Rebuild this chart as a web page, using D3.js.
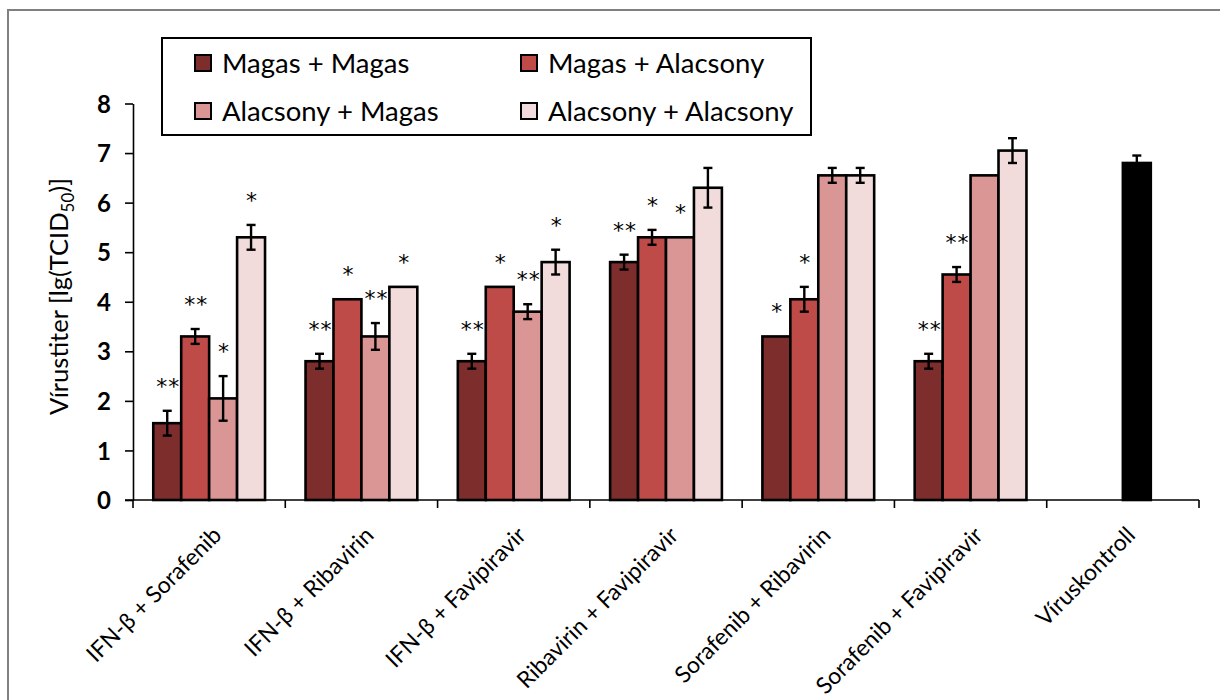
<!DOCTYPE html>
<html>
<head>
<meta charset="utf-8">
<script src="https://cdn.jsdelivr.net/npm/d3@7"></script>
<style>
  html, body { margin: 0; padding: 0; background: #fff; }
  svg { display: block; }
  text { font-family: Lato, "Open Sans", sans-serif; fill: #000; }
</style>
</head>
<body>
<svg id="chart" width="1220" height="700"></svg>
<script>
// Treatment groups on the x axis
const categories = [
  "IFN-β + Sorafenib",
  "IFN-β + Ribavirin",
  "IFN-β + Favipiravir",
  "Ribavirin + Favipiravir",
  "Sorafenib + Ribavirin",
  "Sorafenib + Favipiravir",
  "Víruskontroll"
];

// Dose combinations (legend entries)
const seriesNames = ["Magas + Magas", "Magas + Alacsony", "Alacsony + Magas", "Alacsony + Alacsony"];

// Virus titre means, lg(TCID50); null = no bar
const magasMagas         = [1.55, 2.8, 2.8, 4.8, 3.3, 2.8, null];
const magasAlacsony      = [3.3, 4.05, 4.3, 5.3, 4.05, 4.55, null];
const alacsonyMagas      = [2.05, 3.3, 3.8, 5.3, 6.55, 6.55, 6.8]; // last point: virus control
const alacsonyAlacsony   = [5.3, 4.3, 4.8, 6.3, 6.55, 7.05, null];

// Standard deviations (0 = no error bar)
const errMagasMagas       = [0.25, 0.15, 0.15, 0.15, 0, 0.15, null];
const errMagasAlacsony    = [0.15, 0, 0, 0.15, 0.25, 0.15, null];
const errAlacsonyMagas    = [0.45, 0.27, 0.15, 0, 0.15, 0, 0.15];
const errAlacsonyAlacsony = [0.25, 0, 0.25, 0.4, 0.15, 0.25, null];

// Significance marks
const sigMagasMagas       = ["**", "**", "**", "**", "*", "**", ""];
const sigMagasAlacsony    = ["**", "*", "*", "*", "*", "**", ""];
const sigAlacsonyMagas    = ["*", "**", "**", "*", "", "", ""];
const sigAlacsonyAlacsony = ["*", "*", "*", "", "", "", ""];

const yTicks = [0, 1, 2, 3, 4, 5, 6, 7, 8];

const seriesValues = [magasMagas, magasAlacsony, alacsonyMagas, alacsonyAlacsony];
const seriesErrors = [errMagasMagas, errMagasAlacsony, errAlacsonyMagas, errAlacsonyAlacsony];
const seriesSig = [sigMagasMagas, sigMagasAlacsony, sigAlacsonyMagas, sigAlacsonyAlacsony];

const colors = ["#7e2d2d", "#be4b48", "#d99694", "#f2dcdb"];
const controlColor = "#000000";
const controlCategory = "Víruskontroll";

const svg = d3.select("#chart");

// outer frame
svg.append("rect")
  .attr("x", 8).attr("y", 10)
  .attr("width", 1240).attr("height", 720)
  .attr("fill", "none").attr("stroke", "#808080").attr("stroke-width", 2);

const plot = { left: 133, right: 1199, top: 103.5, bottom: 500 };

const x = d3.scaleBand().domain(categories).range([plot.left, plot.right]).padding(0);
const barW = x.bandwidth() / 5.45;
const gap = x.bandwidth() - 4 * barW;
const xs = d3.scaleBand().domain(d3.range(4)).range([gap / 2, x.bandwidth() - gap / 2]).padding(0);
const y = d3.scaleLinear().domain([0, 8]).range([plot.bottom, plot.top]);

// flatten to bar records
const bars = [];
categories.forEach((c, ci) => {
  seriesValues.forEach((vals, si) => {
    const v = vals[ci];
    if (v == null) return;
    bars.push({
      cat: c, si, v,
      err: seriesErrors[si][ci] || 0,
      sig: seriesSig[si][ci] || "",
      fill: c === controlCategory ? controlColor : colors[si]
    });
  });
});

// Bars
const g = svg.append("g");
g.selectAll("rect.bar").data(bars).join("rect")
  .attr("class", "bar")
  .attr("x", d => x(d.cat) + xs(d.si))
  .attr("y", d => y(d.v))
  .attr("width", xs.bandwidth())
  .attr("height", d => y(0) - y(d.v))
  .attr("fill", d => d.fill)
  .attr("stroke", "#000")
  .attr("stroke-width", 2.6);

// Error bars
const eb = g.selectAll("g.err").data(bars.filter(d => d.err > 0)).join("g").attr("class", "err")
  .attr("transform", d => `translate(${x(d.cat) + xs(d.si) + xs.bandwidth() / 2},0)`);
eb.append("line")
  .attr("x1", 0).attr("x2", 0)
  .attr("y1", d => y(d.v - d.err)).attr("y2", d => y(d.v + d.err))
  .attr("stroke", "#000").attr("stroke-width", 2.4);
eb.append("line")
  .attr("x1", -4.5).attr("x2", 4.5)
  .attr("y1", d => y(d.v + d.err)).attr("y2", d => y(d.v + d.err))
  .attr("stroke", "#000").attr("stroke-width", 2.4);
eb.append("line")
  .attr("x1", -4.5).attr("x2", 4.5)
  .attr("y1", d => y(d.v - d.err)).attr("y2", d => y(d.v - d.err))
  .attr("stroke", "#000").attr("stroke-width", 2.4);

// Significance asterisks above each bar / error bar
g.selectAll("text.sig").data(bars.filter(d => d.sig)).join("text")
  .attr("class", "sig")
  .attr("x", d => x(d.cat) + xs(d.si) + xs.bandwidth() / 2 + 1)
  .attr("y", d => y(d.v + d.err) - 30 + 13)
  .attr("text-anchor", "middle")
  .style("font-family", "'DejaVu Sans', sans-serif")
  .style("font-size", "22px")
  .style("letter-spacing", "1px")
  .text(d => d.sig);

// Y axis
const yAxis = d3.axisLeft(y).tickValues(yTicks).tickSize(8).tickSizeOuter(0).tickPadding(14);
const ya = svg.append("g").attr("transform", `translate(${plot.left},0)`).call(yAxis);
ya.select(".domain").attr("stroke", "#000").attr("stroke-width", 1.6);
ya.selectAll(".tick line").attr("stroke", "#000").attr("stroke-width", 1.6);
ya.selectAll(".tick text")
  .style("font-family", "Lato, sans-serif")
  .style("font-weight", "700")
  .style("font-size", "24px")
  .attr("dy", "0.36em");

// X axis: ticks at band boundaries
const xa = svg.append("g");
xa.append("line")
  .attr("x1", plot.left - 8).attr("x2", plot.right)
  .attr("y1", plot.bottom).attr("y2", plot.bottom)
  .attr("stroke", "#000").attr("stroke-width", 1.6);
const boundaries = categories.map(c => x(c)).concat([x(categories[categories.length - 1]) + x.bandwidth()]);
xa.selectAll("line.tk").data(boundaries).join("line")
  .attr("class", "tk")
  .attr("x1", d => d).attr("x2", d => d)
  .attr("y1", plot.bottom).attr("y2", plot.bottom + 8)
  .attr("stroke", "#000").attr("stroke-width", 1.6);
xa.selectAll("text.xl").data(categories).join("text")
  .attr("class", "xl")
  .attr("transform", c => `translate(${x(c) + x.bandwidth() / 2 + 8},531) rotate(-45)`)
  .attr("text-anchor", "end")
  .attr("dy", "0.35em")
  .style("font-size", "23px")
  .text(c => c);

// Y axis title with subscript
const yt = svg.append("text")
  .attr("transform", `translate(68,296.5) rotate(-90)`)
  .attr("text-anchor", "middle")
  .style("font-size", "25.5px");
yt.append("tspan").text("Vírustiter [lg(TCID");
yt.append("tspan").attr("dy", 6).style("font-size", "17px").text("50");
yt.append("tspan").attr("dy", -6).text(")]");

// Legend
const lg = svg.append("g");
lg.append("rect")
  .attr("x", 162).attr("y", 38).attr("width", 649).attr("height", 97)
  .attr("fill", "#fff").attr("stroke", "#000").attr("stroke-width", 2);
const legendCols = [195, 521];
const legendRows = [63, 111];
const items = lg.selectAll("g.item").data(seriesNames).join("g")
  .attr("class", "item")
  .attr("transform", (d, i) => `translate(${legendCols[i % 2]},${legendRows[Math.floor(i / 2)]})`);
items.append("rect")
  .attr("x", 0).attr("y", -8).attr("width", 16).attr("height", 16)
  .attr("fill", (d, i) => colors[i]).attr("stroke", "#000").attr("stroke-width", 2);
items.append("text")
  .attr("x", 27).attr("y", 0).attr("dy", "0.36em")
  .style("font-size", "27.5px")
  .text(d => d);
</script>
</body>
</html>
